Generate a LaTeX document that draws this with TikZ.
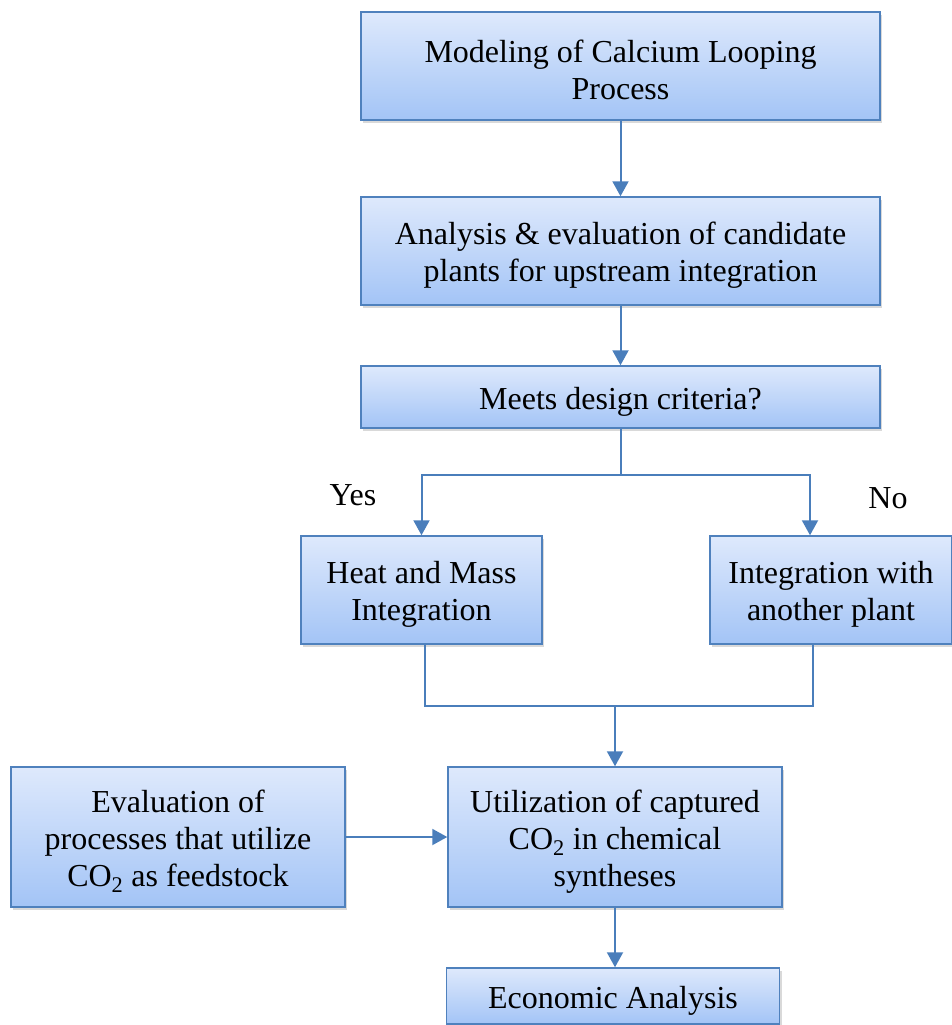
\documentclass[tikz,border=0pt]{standalone}
\usepackage{fontspec}
\setmainfont{Liberation Serif}
\usetikzlibrary{arrows.meta,shadows}
\definecolor{boxtop}{RGB}{222,233,252}
\definecolor{boxbot}{RGB}{163,196,246}
\definecolor{boxline}{RGB}{79,129,189}
\definecolor{flow}{RGB}{74,126,187}
\newcommand{\lift}{\rule{0pt}{31pt}}

\begin{document}
\begin{tikzpicture}[x=1pt,y=-1pt,
    stagebox/.style={draw=boxline, line width=1.5pt, top color=boxtop, bottom color=boxbot, align=center, inner sep=0pt, font=\fontsize{32}{37}\selectfont, drop shadow={shadow xshift=2pt,shadow yshift=-3pt,opacity=0.3}},
    flowline/.style={draw=flow, line width=2pt},
    flowarrow/.style={flowline, -{Triangle[width=16pt,length=15pt]}},
    answer/.style={font=\fontsize{32}{37}\selectfont}]
    \useasboundingbox (0,0) rectangle (951,1025);
    \node[stagebox, minimum width=519pt, minimum height=108pt] (model) at (620.5,66) {\lift Modeling of Calcium Looping\\Process};
    \node[stagebox, minimum width=519pt, minimum height=108pt] (analysis) at (620.5,251) {\lift Analysis \& evaluation of candidate\\plants for upstream integration};
    \node[stagebox, minimum width=519pt, minimum height=62pt] (criteria) at (620.5,397) {\lift Meets design criteria?};
    \node[stagebox, minimum width=241pt, minimum height=108pt] (heatmass) at (421.5,590) {\lift Heat and Mass\\Integration};
    \node[stagebox, minimum width=242pt, minimum height=108pt] (otherplant) at (831,590) {\lift Integration with\\another plant};
    \node[stagebox, minimum width=334pt, minimum height=140pt] (evaluate) at (178,837) {\lift Evaluation of\\processes that utilize\\CO\textsubscript{2} as feedstock};
    \node[stagebox, minimum width=334pt, minimum height=140pt] (utilize) at (615,837) {\lift Utilization of captured\\CO\textsubscript{2} in chemical\\syntheses};
    \node[stagebox, minimum width=333pt, minimum height=56pt] (economic) at (613,996) {\lift Economic Analysis};
    \node[answer] (yes) at (353,495) {Yes};
    \node[answer] (no) at (888,498) {No};
    \coordinate (split) at (620.5,475);
    \coordinate (merge) at (615,706);
    \draw[flowarrow] (model.south) -- (analysis.north);
    \draw[flowarrow] (analysis.south) -- (criteria.north);
    \draw[flowline] (criteria.south) -- (split);
    \draw[flowarrow] (split) -| (heatmass.north);
    \draw[flowarrow] (split) -| ([xshift=-21pt]otherplant.north);
    \draw[flowline] ([xshift=3pt]heatmass.south) |- (merge) -| ([xshift=-18pt]otherplant.south);
    \draw[flowarrow] (merge) -- (utilize.north);
    \draw[flowarrow] (evaluate.east) -- (utilize.west);
    \draw[flowarrow] (utilize.south) -- (utilize.south |- economic.north);
\end{tikzpicture}
\end{document}
